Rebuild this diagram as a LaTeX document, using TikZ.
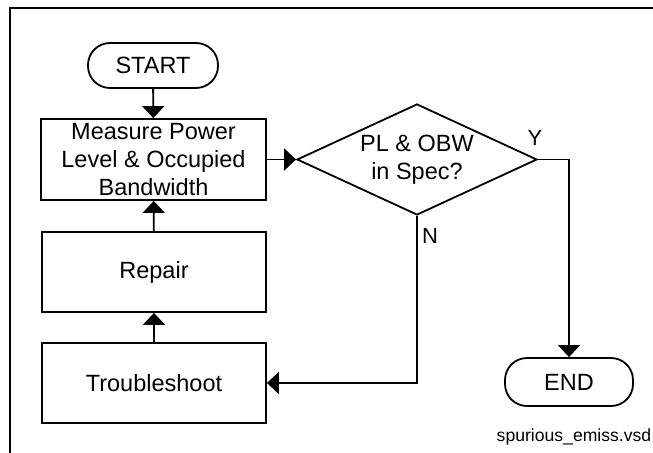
\documentclass[tikz,border=0pt]{standalone}
\usepackage{fontspec}
\setmainfont{Liberation Sans}
\usetikzlibrary{shapes.geometric,arrows.meta}
\begin{document}
\begin{tikzpicture}[x=1bp,y=-1bp,
  every node/.style={font=\fontsize{23.5bp}{28bp}\selectfont, inner sep=0pt},
  boxstyle/.style={draw, line width=1.8bp, rectangle, align=center},
  termstyle/.style={draw, line width=1.8bp, rectangle, rounded corners=22bp},
  decstyle/.style={draw, line width=1.8bp, diamond, aspect=2.16, align=center},
  arr/.style={line width=1.8bp, -{Triangle[length=12bp,width=22bp]}},
  lbl/.style={font=\fontsize{22bp}{26bp}\selectfont}]
\useasboundingbox (0,0) rectangle (653,453);
\draw[line width=2.2bp] (10,453) -- (10,8) -- (653,8);
\node[termstyle, minimum width=130bp, minimum height=45bp] (start) at (153,65.5) {START};
\node[boxstyle, minimum width=225bp, minimum height=81bp] (measure) at (153.5,159.5) {Measure Power\\Level \& Occupied\\Bandwidth};
\node[decstyle, minimum width=240bp, minimum height=111bp] (dec) at (417,159.5) {PL \& OBW\\in Spec?};
\node[boxstyle, minimum width=224bp, minimum height=80bp] (repair) at (154,272) {Repair};
\node[boxstyle, minimum width=224bp, minimum height=80bp] (trouble) at (154,383) {Troubleshoot};
\node[termstyle, minimum width=128bp, minimum height=48bp] (end) at (569,382) {END};
\node[lbl] (ylbl) at (535,138) {Y};
\node[lbl] (nlbl) at (430,236) {N};
\node[font=\fontsize{17.6bp}{20bp}\selectfont] (file) at (574,437) {spurious\_emiss.vsd};
\draw[arr] (start) -- (measure);
\draw[arr] (measure) -- (dec);
\draw[arr] (repair) -- (measure);
\draw[arr] (trouble) -- (repair);
\draw[arr] (dec.south) |- (trouble.east);
\draw[arr] (dec.east) -| (end.north);
\end{tikzpicture}
\end{document}
